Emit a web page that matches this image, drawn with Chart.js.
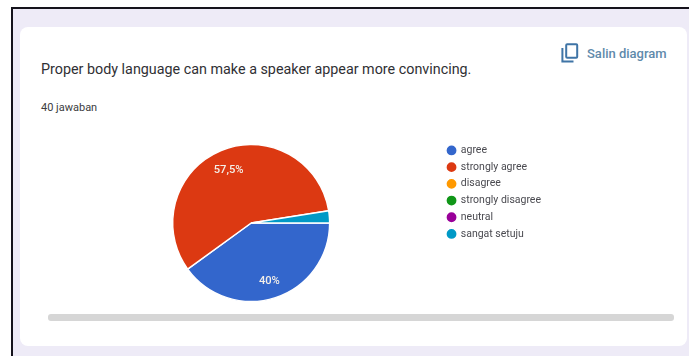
<!DOCTYPE html>
<html>
<head>
<meta charset="utf-8">
<title>Proper body language</title>
<script src="https://cdn.jsdelivr.net/npm/chart.js@4"></script>
<style>
    html, body { margin: 0; padding: 0; background: #fff; }
    body { width: 689px; height: 356px; overflow: hidden; position: relative; font-family: Roboto, sans-serif; }
    #page { position: absolute; left: 0; top: 0; width: 689px; height: 356px; filter: blur(0.5px); }
    #frame { position: absolute; left: 11px; top: 7px; width: 678px; height: 349px; box-sizing: border-box;
        border-left: 2px solid #15131c; border-top: 2px solid #15131c; background: #eeebf7; }
    #card { position: absolute; left: 20px; top: 27px; width: 667px; height: 319px; background: #fff; border-radius: 8px; }
    #title { position: absolute; left: 41px; top: 61px; font-size: 14.33px; color: #303034; white-space: nowrap; }
    #count { position: absolute; left: 41px; top: 101px; font-size: 11px; color: #3c3c40; white-space: nowrap; }
    #copy { position: absolute; left: 587px; top: 45.5px; font-size: 13px; font-weight: 500; color: #5f8aab; white-space: nowrap; }
    #icon { position: absolute; left: 561px; top: 43px; }
    #scroll { position: absolute; left: 48px; top: 314px; width: 626px; height: 7px; background: #d6d6d6; border-radius: 3px; }
    #wrap { position: absolute; left: 61px; top: 139px; width: 490px; height: 168px; }
</style>
</head>
<body>
<div id="page">
    <div id="frame"></div>
    <div id="card"></div>
    <div id="title">Proper body language can make a speaker appear more convincing.</div>
    <div id="count">40 jawaban</div>
    <svg id="icon" width="18" height="20" viewBox="0 0 18 20">
        <rect x="5.2" y="1.2" width="11" height="13.6" rx="1" fill="none" stroke="#3f74a6" stroke-width="2"/>
        <path d="M1.4 5 V18.6 H12.5" fill="none" stroke="#3f74a6" stroke-width="2"/>
    </svg>
    <div id="copy">Salin diagram</div>
    <div id="scroll"></div>
    <div id="wrap"><canvas id="pieChart"></canvas></div>
</div>
<script>
const categories = ['agree', 'strongly agree', 'disagree', 'strongly disagree', 'neutral', 'sangat setuju'];
const percentages = [40, 57.5, 0, 0, 0, 2.5];
const sliceColors = ['#3366cc', '#dc3912', '#ff9900', '#109618', '#990099', '#0099c6'];

// writes the percent inside the big slices, with a comma like the original
const sliceLabels = {
    id: 'sliceLabels',
    afterDatasetsDraw(chart) {
        const ctx = chart.ctx;
        const arcs = chart.getDatasetMeta(0).data;
        ctx.save();
        ctx.font = '500 11.2px Roboto';
        ctx.fillStyle = '#f4efe8';
        ctx.textAlign = 'center';
        ctx.textBaseline = 'middle';
        arcs.forEach((arc, i) => {
            if (percentages[i] < 5) return;
            const mid = (arc.startAngle + arc.endAngle) / 2;
            const r = arc.outerRadius * 0.75;
            const text = String(percentages[i]).replace('.', ',') + '%';
            ctx.fillText(text, arc.x + Math.cos(mid) * r, arc.y + Math.sin(mid) * r + 2);
        });
        ctx.restore();
    }
};

new Chart(document.getElementById('pieChart'), {
    type: 'pie',
    data: {
        labels: categories,
        datasets: [{
            data: percentages,
            backgroundColor: sliceColors,
            borderColor: '#ffffff',
            borderWidth: 1.5
        }]
    },
    options: {
        responsive: true,
        maintainAspectRatio: false,
        animation: false,
        rotation: 90,
        radius: 78.5,
        plugins: {
            tooltip: { enabled: false },
            legend: {
                position: 'right',
                align: 'start',
                labels: {
                    usePointStyle: true,
                    pointStyle: 'circle',
                    boxWidth: 8,
                    boxHeight: 8,
                    padding: 6.2,
                    color: '#4a4a50',
                    font: { family: 'Roboto', size: 10.5 }
                }
            }
        }
    },
    plugins: [sliceLabels]
});
</script>
</body>
</html>
